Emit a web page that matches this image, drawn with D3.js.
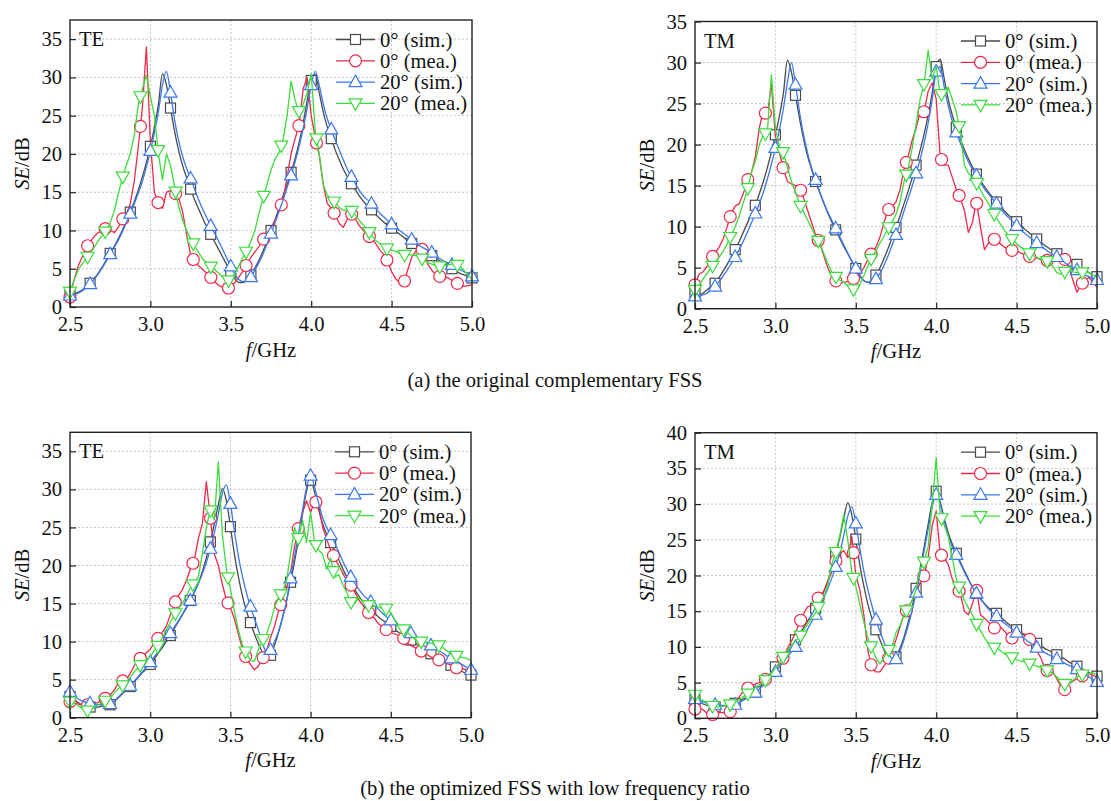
<!DOCTYPE html>
<html><head><meta charset="utf-8">
<script src="https://cdn.jsdelivr.net/npm/d3@7"></script>
<style>
body{margin:0;background:#fff}
svg{display:block}
text{font-family:"Liberation Serif","Times New Roman",serif;fill:#111}
</style>
</head><body>
<svg id="c" width="1111" height="801"></svg>
<script>
// ---------------- DATA ----------------
// frequency grid, 2.5 .. 5.0 GHz step 0.025 (101 points)
const freq = d3.range(101).map(i => +(2.5 + i * 0.025).toFixed(3));
const xTickValues = [2.5, 3.0, 3.5, 4.0, 4.5, 5.0];
const seriesNames = ["0° (sim.)", "0° (mea.)", "20° (sim.)", "20° (mea.)"];
const panelLabels = ["TE", "TM", "TE", "TM"];
const captions = ["(a) the original complementary FSS", "(b) the optimized FSS with low frequency ratio"];
const yMaxTicks = [35, 35, 35, 40];

// (a) TE
const te1_sim0 = [1.6,1.7,1.9,2.2,2.6,3.1,3.7,4.4,5.2,6.1,7.0,7.9,8.9,10.0,11.2,12.4,13.8,15.3,17.0,18.9,
 21.0,23.5,26.5,30.5,29.0,26.0,23.0,20.5,18.5,16.9,15.4,14.0,12.8,11.6,10.5,9.5,8.5,7.5,6.5,5.5,
 4.5,3.7,3.2,3.2,3.5,4.2,5.1,6.1,7.3,8.6,10.0,11.4,12.9,14.5,16.0,17.6,19.4,21.5,24.0,27.0,
 29.6,30.4,28.0,25.5,23.5,22.0,20.5,19.2,18.0,17.0,16.1,15.3,14.5,13.8,13.2,12.7,12.1,11.6,11.1,10.7,
 10.3,9.9,9.5,9.1,8.7,8.3,8.0,7.6,7.3,7.0,6.7,6.4,6.0,5.7,5.3,5.0,4.7,4.4,4.2,4.0,
 3.8];
const te1_mea0 = [1.3,3.5,5.3,6.5,7.7,8.5,9.2,9.7,10.0,10.3,10.1,9.7,10.4,11.4,12.2,13.5,16.5,21.0,26.0,34.0,
 21.5,15.0,13.5,12.9,15.0,15.2,15.0,14.3,12.5,9.5,6.8,5.9,5.4,4.9,4.4,3.9,3.3,2.8,2.6,2.4,
 2.6,3.2,3.9,4.7,5.6,6.5,7.2,7.9,8.7,9.6,10.4,11.3,12.5,14.0,17.0,20.0,22.0,23.8,28.5,30.0,
 25.0,22.2,19.8,16.0,13.5,12.9,12.0,10.9,10.4,11.5,12.2,11.5,10.6,10.0,9.4,9.0,8.3,7.5,6.9,6.0,
 4.6,3.7,3.2,3.0,4.8,6.5,7.3,8.0,7.2,5.6,4.8,4.2,4.0,4.0,3.8,3.5,3.2,2.9,2.7,2.8,
 2.9];
const te1_sim20 = [1.5,1.6,1.8,2.1,2.5,3.0,3.6,4.3,5.1,6.0,6.9,7.8,8.7,9.8,11.0,12.2,13.5,14.9,16.4,18.3,
 20.4,22.8,25.5,29.0,30.8,28.0,24.5,21.8,19.7,18.1,16.8,15.4,14.0,12.8,11.7,10.6,9.6,8.6,7.5,6.4,
 5.3,4.3,3.6,3.3,3.4,3.9,4.8,5.8,6.9,8.2,9.6,11.0,12.5,14.0,15.6,17.2,19.0,21.0,23.3,26.0,
 29.0,30.8,29.0,26.5,24.6,23.2,21.8,20.5,19.2,18.0,17.0,16.1,15.2,14.5,14.0,13.5,12.9,12.3,11.8,11.3,
 10.8,10.4,10.0,9.6,9.2,8.8,8.4,8.0,7.7,7.4,7.1,6.7,6.3,6.0,5.8,5.5,5.2,4.9,4.6,4.3,
 4.0];
const te1_mea20 = [2.0,3.5,4.8,5.6,6.3,7.0,7.8,8.6,9.4,10.0,11.0,12.5,14.8,16.8,18.5,20.0,22.5,26.5,28.5,30.3,
 27.5,25.0,20.0,16.6,20.0,18.5,15.8,13.2,11.4,10.0,8.9,8.0,7.1,6.3,5.8,5.3,4.9,4.4,3.9,3.4,
 3.6,4.4,5.4,6.5,7.4,8.6,10.0,12.2,14.2,16.0,17.9,19.3,20.2,21.8,25.0,29.5,27.0,25.5,26.5,28.0,
 30.5,23.0,20.0,16.0,14.6,14.1,13.6,13.0,12.6,12.7,12.6,12.0,11.3,10.7,10.1,9.4,8.7,8.3,7.9,7.6,
 7.4,7.3,7.0,6.8,6.8,6.8,6.7,6.5,6.2,5.8,5.6,5.4,5.3,5.4,5.5,5.6,5.6,5.3,4.8,4.2,
 3.6];

// (a) TM
const tm1_sim0 = [1.8,1.7,1.9,2.3,2.7,3.1,3.8,4.6,5.4,6.3,7.2,8.2,9.3,10.4,11.5,12.6,14.0,15.5,17.2,19.1,
 21.2,23.5,26.3,30.3,28.8,26.0,23.2,20.7,18.6,17.0,15.5,14.2,12.9,11.7,10.6,9.6,8.6,7.6,6.7,5.8,
 4.9,4.1,3.4,3.2,3.5,4.1,5.0,6.1,7.3,8.6,9.9,11.3,12.8,14.3,15.9,17.5,19.3,21.3,23.6,26.3,
 29.5,30.4,28.0,25.5,23.6,22.1,20.7,19.4,18.3,17.3,16.4,15.6,14.9,14.2,13.6,13.0,12.4,11.9,11.4,11.0,
 10.6,10.2,9.7,9.3,8.9,8.5,8.1,7.7,7.4,7.0,6.7,6.4,6.2,5.9,5.7,5.4,5.0,4.7,4.4,4.1,
 3.9];
const tm1_mea0 = [2.9,4.2,4.5,5.2,6.1,6.8,7.5,8.5,10.0,11.6,12.5,12.8,14.0,15.6,16.5,18.5,22.0,24.2,23.5,27.5,
 21.0,19.0,17.0,15.5,15.2,15.0,14.8,13.5,12.0,10.5,9.0,8.0,6.5,5.0,4.0,3.4,3.2,3.2,3.3,3.6,
 3.8,4.2,5.0,6.0,6.8,7.5,8.7,10.5,12.0,12.5,13.0,14.5,17.0,18.5,20.5,22.0,24.0,24.0,26.5,27.5,
 25.5,18.5,17.5,17.5,16.0,14.5,13.5,12.0,9.3,10.5,13.1,10.0,7.2,8.0,8.6,8.3,7.9,7.5,7.2,7.1,
 7.0,6.8,6.6,6.4,6.3,6.2,6.0,5.9,5.9,6.0,6.0,6.1,6.0,5.0,3.5,2.0,2.9,3.5,3.8,3.2,
 2.6];
const tm1_sim20 = [1.5,1.5,1.7,1.9,2.3,2.7,3.3,4.0,4.7,5.5,6.3,7.2,8.2,9.3,10.4,11.6,12.8,14.2,15.8,17.6,
 19.6,21.8,24.4,27.6,30.0,27.3,24.0,21.2,19.0,17.2,15.7,14.3,13.0,11.8,10.8,9.8,8.8,7.8,6.8,5.8,
 4.9,4.0,3.4,3.2,3.3,3.6,4.3,5.3,6.4,7.7,9.0,10.4,11.9,13.4,14.9,16.5,18.2,20.2,22.6,25.5,
 28.9,29.5,27.0,24.7,22.9,21.5,20.2,19.0,17.9,17.0,16.2,15.4,14.6,14.0,13.4,12.8,12.2,11.6,11.1,10.6,
 10.1,9.6,9.2,8.8,8.4,8.0,7.6,7.3,6.9,6.6,6.3,6.0,5.6,5.3,5.0,4.7,4.4,4.1,3.9,3.7,
 3.5];
const tm1_mea20 = [2.3,2.9,3.6,4.3,5.0,5.6,6.3,7.0,7.9,9.0,10.0,11.3,12.9,14.4,16.5,18.0,20.0,21.2,21.5,28.5,
 22.0,19.8,19.0,17.2,15.5,14.2,12.8,11.8,10.8,9.8,8.8,8.0,6.8,5.5,4.5,3.9,3.5,3.2,2.8,2.4,
 2.3,3.0,4.0,5.2,6.3,7.0,8.0,8.8,9.8,10.5,11.5,13.0,15.5,17.0,19.5,22.5,25.5,27.5,31.5,28.0,
 29.5,26.0,26.5,27.0,25.5,24.0,21.5,17.5,16.5,16.0,15.4,14.5,13.6,12.8,12.0,11.0,10.3,9.5,9.0,8.4,
 7.9,7.5,7.2,6.8,6.5,6.3,6.0,5.8,5.8,5.2,4.4,4.2,4.5,4.8,4.5,4.4,4.4,4.5,4.4,4.1,
 3.8];

// (b) TE
const te2_sim0 = [2.8,2.4,2.0,1.7,1.5,1.4,1.4,1.4,1.5,1.6,1.7,2.1,2.6,3.1,3.6,4.1,4.7,5.3,5.9,6.4,
 7.0,7.7,8.5,9.2,10.0,10.8,11.7,12.6,13.5,14.4,15.4,16.5,17.7,19.2,21.0,23.1,25.5,28.0,30.1,28.5,
 25.1,21.5,18.5,16.0,14.0,12.5,11.0,9.7,8.6,7.9,8.2,9.5,11.2,13.2,15.4,17.8,20.5,23.5,26.8,29.8,
 31.2,29.6,27.3,25.5,24.1,23.0,21.9,20.8,19.6,18.5,17.6,16.8,16.0,15.3,14.7,14.2,13.7,13.2,12.8,12.4,
 12.0,11.6,11.2,10.9,10.5,10.2,9.8,9.5,9.1,8.8,8.4,8.1,7.8,7.5,7.2,6.9,6.6,6.3,6.0,5.8,
 5.6];
const te2_mea0 = [2.1,2.0,1.8,1.7,1.7,1.7,1.8,2.0,2.4,2.6,3.0,3.6,4.5,4.8,5.0,5.8,6.8,7.6,8.0,8.5,
 9.0,9.8,10.5,11.2,12.0,13.5,14.9,16.0,16.8,18.0,19.5,20.7,23.5,25.5,31.0,26.4,21.5,20.0,17.5,15.5,
 14.5,13.0,11.0,9.0,7.8,7.0,6.3,6.8,7.7,8.8,10.5,12.0,14.0,15.5,17.0,19.0,22.5,25.0,27.0,28.5,
 27.0,28.5,28.0,25.0,23.5,22.0,21.0,20.0,19.0,18.0,17.5,16.5,15.5,14.8,14.0,13.6,13.0,12.3,11.9,11.5,
 11.2,11.0,10.8,10.6,9.8,9.5,9.2,9.0,8.6,8.3,8.0,7.8,7.6,7.4,7.1,6.9,6.6,6.5,6.4,6.3,
 6.2];
const te2_sim20 = [3.4,2.9,2.5,2.2,2.0,1.9,1.8,1.7,1.7,1.7,1.8,2.2,2.7,3.2,3.7,4.2,4.8,5.4,6.0,6.6,
 7.3,8.0,8.7,9.5,10.3,11.1,11.9,12.7,13.6,14.5,15.4,16.5,17.6,18.9,20.4,22.2,24.3,26.8,29.5,30.6,
 28.1,24.5,21.2,18.6,16.4,14.6,13.0,11.5,9.8,8.6,8.9,10.0,11.3,13.1,15.3,18.3,21.2,24.2,27.3,30.3,
 31.8,30.3,28.2,26.3,25.0,24.0,23.0,21.8,20.6,19.5,18.5,17.7,16.9,16.2,15.7,15.2,14.7,14.2,13.7,13.2,
 12.8,12.4,12.1,11.8,11.4,11.1,10.8,10.4,10.1,9.8,9.5,9.1,8.8,8.5,8.1,7.8,7.5,7.2,6.9,6.6,
 6.3];
const te2_mea20 = [2.1,1.9,1.6,1.2,0.9,1.0,1.4,1.7,2.0,2.3,2.6,3.2,3.8,4.2,4.6,5.3,6.0,6.6,7.2,7.6,
 8.0,8.8,9.5,10.5,11.5,12.5,13.5,14.3,15.0,16.0,17.0,17.8,18.5,21.5,25.0,27.3,26.0,33.6,24.0,19.5,
 17.0,14.0,11.5,9.5,8.5,7.5,7.4,9.0,10.2,11.0,12.5,14.5,15.8,16.5,18.0,21.5,25.0,23.5,26.0,23.0,
 27.0,23.0,22.0,21.5,19.5,21.0,18.5,18.8,17.5,16.5,15.2,15.0,15.8,15.3,14.8,14.8,14.7,14.5,14.4,14.3,
 13.8,12.8,12.2,11.7,11.3,10.8,10.3,10.0,10.0,9.9,9.8,9.6,9.5,9.2,8.8,8.4,8.2,8.0,7.9,7.8,
 7.5];

// (b) TM
const tm2_sim0 = [2.6,2.3,2.0,1.8,1.7,1.6,1.6,1.7,1.8,1.9,2.1,2.4,2.7,3.0,3.3,3.7,4.3,5.0,5.7,6.4,
 7.2,7.9,8.6,9.4,10.2,11.0,11.8,12.7,13.6,14.5,15.4,16.5,17.7,19.2,20.9,22.9,25.3,28.0,30.2,28.5,
 25.1,21.5,18.5,16.0,14.0,12.4,11.0,9.6,8.5,8.2,8.6,9.8,11.4,13.4,15.6,18.2,21.0,24.0,27.2,30.2,
 31.8,30.3,28.0,26.0,24.4,23.1,21.9,20.7,19.5,18.4,17.5,16.8,16.1,15.5,15.1,14.7,14.2,13.7,13.2,12.8,
 12.4,12.0,11.6,11.2,10.8,10.5,10.2,9.8,9.5,9.2,8.9,8.6,8.3,7.9,7.6,7.3,7.0,6.7,6.4,6.1,
 5.9];
const tm2_mea0 = [1.3,1.5,1.2,0.7,0.5,0.6,0.8,0.8,0.7,1.0,2.0,3.0,3.8,4.2,4.5,4.8,5.0,5.3,5.6,6.2,
 6.9,7.6,8.5,9.8,10.8,12.0,13.4,14.6,15.6,15.8,16.5,17.0,17.8,19.0,20.5,22.0,23.0,23.5,22.5,25.5,
 20.0,18.0,14.5,9.5,7.0,6.5,6.5,7.3,8.2,9.5,11.0,12.8,14.5,15.5,16.5,17.5,19.0,20.0,22.5,27.0,
 29.0,23.0,22.5,21.5,19.5,18.5,17.5,15.0,14.5,16.0,18.2,14.5,14.0,13.5,12.8,12.5,12.8,12.2,11.5,11.2,
 11.5,12.0,11.8,11.2,10.5,9.5,8.5,7.0,6.5,6.5,5.5,4.5,4.0,4.8,5.2,5.5,5.8,6.2,6.3,6.0,
 5.8];
const tm2_sim20 = [2.7,2.5,2.3,2.1,2.0,1.9,1.8,1.8,1.8,1.8,1.9,2.2,2.5,2.8,3.2,3.6,4.1,4.6,5.2,5.8,
 6.5,7.2,7.9,8.6,9.3,10.0,10.8,11.6,12.5,13.5,14.5,15.6,16.8,18.1,19.6,21.2,23.2,25.6,28.3,29.6,
 27.3,23.8,20.6,18.0,15.8,13.8,12.2,10.7,9.4,8.4,8.3,9.4,11.0,12.9,15.1,17.6,20.4,23.4,26.5,29.6,
 31.3,30.0,27.6,25.6,24.0,22.9,21.7,20.5,19.4,18.4,17.5,16.7,16.0,15.3,14.8,14.3,13.8,13.3,12.9,12.4,
 12.0,11.6,11.1,10.7,10.3,9.9,9.6,9.2,8.9,8.6,8.3,8.0,7.7,7.4,7.2,6.9,6.5,6.1,5.8,5.4,
 5.1];
const tm2_mea20 = [3.3,2.8,2.5,2.2,1.8,1.6,1.6,1.7,1.8,2.0,2.3,2.6,3.0,3.4,3.8,4.3,4.7,5.1,5.6,6.3,
 7.0,7.8,8.7,9.5,10.2,10.8,11.3,12.3,13.2,14.0,14.8,16.0,17.0,18.5,21.5,23.2,25.5,28.5,25.0,20.5,
 18.5,16.0,13.5,11.2,9.8,8.5,7.6,8.5,9.5,10.0,12.0,13.0,14.5,15.6,16.5,18.0,21.0,22.0,24.0,30.0,
 36.5,28.5,27.0,25.5,22.5,19.5,18.0,16.5,15.5,14.5,13.3,12.3,11.3,10.5,10.0,9.8,9.5,9.0,8.7,8.5,
 8.2,8.0,7.9,7.7,7.5,7.3,7.1,6.9,6.6,6.3,5.8,5.2,4.8,4.9,5.3,5.8,6.1,6.2,6.3,6.3,
 6.2];

// ---------------- STYLE / LAYOUT ----------------
const colors = ["#4a4a4a", "#ee2a4b", "#3a78f0", "#3ddc3d"];
const symbols = ["square", "circle", "up", "down"];
const isMeasured = [false, true, false, true];

const panels = [
  {l: 70,  r: 472,  t: 20,    b: 307,   yMax: 37.5, ticks: yMaxTicks[0], label: panelLabels[0], data: [te1_sim0, te1_mea0, te1_sim20, te1_mea20]},
  {l: 695, r: 1097, t: 21.5,  b: 308.7, yMax: 35,   ticks: yMaxTicks[1], label: panelLabels[1], data: [tm1_sim0, tm1_mea0, tm1_sim20, tm1_mea20]},
  {l: 70,  r: 471,  t: 432.3, b: 717.7, yMax: 37.5, ticks: yMaxTicks[2], label: panelLabels[2], data: [te2_sim0, te2_mea0, te2_sim20, te2_mea20]},
  {l: 695, r: 1097, t: 432.7, b: 718.3, yMax: 40,   ticks: yMaxTicks[3], label: panelLabels[3], data: [tm2_sim0, tm2_mea0, tm2_sim20, tm2_mea20]}
];

const svg = d3.select("#c");
const FS = 20.6;

function drawSymbol(g, type, x, y, color) {
  if (type === "square") {
    g.append("rect").attr("x", x - 5).attr("y", y - 5).attr("width", 10).attr("height", 10)
      .attr("fill", "#fff").attr("stroke", color).attr("stroke-width", 1.2);
  } else if (type === "circle") {
    g.append("circle").attr("cx", x).attr("cy", y).attr("r", 6)
      .attr("fill", "#fff").attr("stroke", color).attr("stroke-width", 1.2);
  } else {
    const s = type === "up" ? 1 : -1;
    const pts = [[x, y - 7 * s], [x + 6.5, y + 4.5 * s], [x - 6.5, y + 4.5 * s]];
    g.append("path").attr("d", "M" + pts.map(p => p.join(",")).join("L") + "Z")
      .attr("fill", "#fff").attr("stroke", color).attr("stroke-width", 1.2);
  }
}

function interp(arr, f) {
  const pos = (f - 2.5) / 0.025;
  const i = Math.max(0, Math.min(99, Math.floor(pos)));
  const t = pos - i;
  return arr[i] * (1 - t) + arr[i + 1] * t;
}

panels.forEach((p, pi) => {
  const x = d3.scaleLinear().domain([2.5, 5.0]).range([p.l, p.r]);
  const y = d3.scaleLinear().domain([0, p.yMax]).range([p.b, p.t]);
  const g = svg.append("g");
  const yTicks = d3.range(0, p.ticks + 0.1, 5);

  // grid
  const grid = g.append("g").attr("stroke", "#c4c4c4").attr("stroke-width", 1).attr("stroke-dasharray", "2,2");
  xTickValues.slice(1, -1).forEach(v => grid.append("line").attr("x1", x(v)).attr("x2", x(v)).attr("y1", p.t).attr("y2", p.b));
  yTicks.slice(1).forEach(v => grid.append("line").attr("x1", p.l).attr("x2", p.r).attr("y1", y(v)).attr("y2", y(v)));

  // series
  p.data.forEach((arr, si) => {
    const pts = freq.map((f, i) => [f, arr[i]]);
    const line = d3.line().x(d => x(d[0])).y(d => y(d[1]))
      .curve(isMeasured[si] ? d3.curveLinear : d3.curveMonotoneX);
    g.append("path").datum(pts).attr("d", line).attr("fill", "none")
      .attr("stroke", colors[si]).attr("stroke-width", 1.3).attr("stroke-linejoin", "round");
    const mg = g.append("g");
    if (isMeasured[si]) {
      d3.range(0, 23).forEach(k => {
        const f = 2.5 + k * 0.1095;
        drawSymbol(mg, symbols[si], x(f), y(interp(arr, f)), colors[si]);
      });
    } else {
      freq.forEach((f, i) => { if (i % 5 === 0) drawSymbol(mg, symbols[si], x(f), y(arr[i]), colors[si]); });
    }
  });

  // frame
  g.append("rect").attr("x", p.l).attr("y", p.t).attr("width", p.r - p.l).attr("height", p.b - p.t)
    .attr("fill", "none").attr("stroke", "#222").attr("stroke-width", 1.4);

  // axes (inward ticks)
  const xAxis = d3.axisBottom(x).tickValues(xTickValues).tickSize(-6).tickPadding(0).tickFormat(d3.format(".1f"));
  const yAxis = d3.axisLeft(y).tickValues(yTicks).tickSize(-6).tickFormat(d3.format("d"));
  const gx = g.append("g").attr("transform", `translate(0,${p.b})`).call(xAxis);
  const gy = g.append("g").attr("transform", `translate(${p.l},0)`).call(yAxis);
  [gx, gy].forEach(a => {
    a.select(".domain").remove();
    a.selectAll(".tick line").attr("stroke", "#222").attr("stroke-width", 1.2);
    a.selectAll("text").attr("font-family", "Liberation Serif").attr("font-size", FS).attr("fill", "#111");
  });
  gx.selectAll("text").attr("y", 24).attr("dy", 0);
  gy.selectAll("text").attr("x", -8).attr("dy", "0.32em");

  // axis titles
  const xt = g.append("text").attr("x", (p.l + p.r) / 2).attr("y", p.b + 49.5)
    .attr("text-anchor", "middle").attr("font-size", FS);
  xt.append("tspan").attr("font-style", "italic").text("f");
  xt.append("tspan").text("/GHz");
  const yt = g.append("text").attr("transform", `translate(${p.l - 48},${(p.t + p.b) / 2}) rotate(-90)`)
    .attr("text-anchor", "middle").attr("dy", "0.34em").attr("font-size", FS);
  yt.append("tspan").attr("font-style", "italic").text("SE");
  yt.append("tspan").text("/dB");

  // panel label
  g.append("text").attr("x", p.l + 9).attr("y", p.t + 26).attr("font-size", FS).text(p.label);

  // legend
  seriesNames.forEach((name, si) => {
    const cy = p.t + 19.5 + si * 21.3;
    const x0 = p.r - 136, x1 = p.r - 97;
    g.append("line").attr("x1", x0).attr("x2", x1).attr("y1", cy).attr("y2", cy)
      .attr("stroke", colors[si]).attr("stroke-width", 1.3);
    drawSymbol(g, symbols[si], (x0 + x1) / 2, cy, colors[si]);
    g.append("text").attr("x", p.r - 92).attr("y", cy).attr("dy", "0.34em").attr("font-size", FS).text(name);
  });
});

// captions
svg.append("text").attr("x", 555).attr("y", 387).attr("text-anchor", "middle").attr("font-size", FS).text(captions[0]);
svg.append("text").attr("x", 555).attr("y", 795).attr("text-anchor", "middle").attr("font-size", FS).text(captions[1]);
</script>
</body></html>
